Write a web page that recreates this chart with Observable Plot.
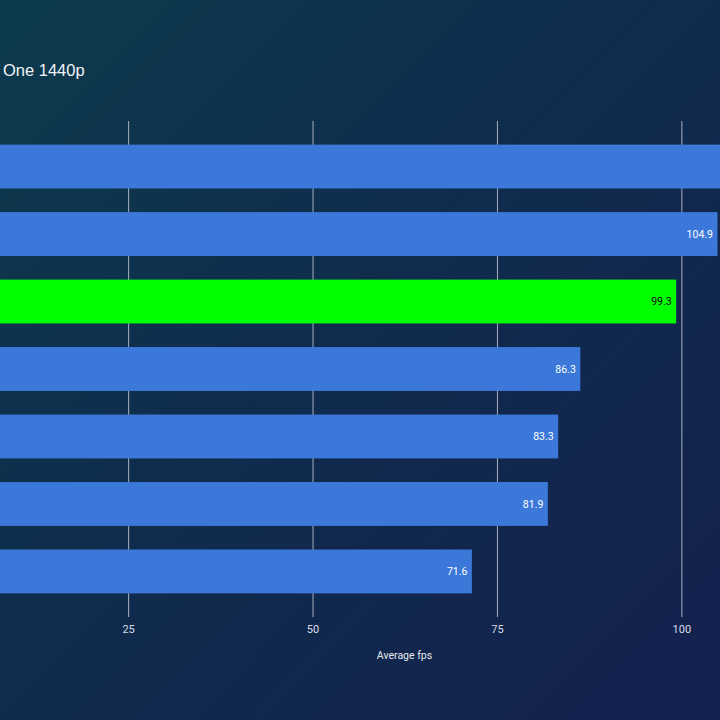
<!DOCTYPE html>
<html>
<head>
<meta charset="utf-8">
<script src="https://cdn.jsdelivr.net/npm/d3@7"></script>
<script src="https://cdn.jsdelivr.net/npm/@observablehq/plot@0.6"></script>
<style>
  html, body { margin: 0; padding: 0; overflow: hidden; }
  #wrap {
    position: relative; width: 720px; height: 720px; overflow: hidden;
    background: linear-gradient(135deg, #0c3b4d 0%, #0f2c4d 45%, #14204e 100%);
  }
  #title {
    position: absolute; left: 3px; top: 61px;
    font-family: "Liberation Sans", Arial, sans-serif; font-size: 16.5px; color: #f2f4f8;
  }
  #chart svg { overflow: hidden; display: block; }
</style>
</head>
<body>
<div id="wrap">
  <div id="title">One 1440p</div>
  <div id="chart"></div>
</div>
<script>
const categories = ["GPU 1", "GPU 2", "GPU 3", "GPU 4", "GPU 5", "GPU 6", "GPU 7"];
const fps = [112.0, 104.9, 99.3, 86.3, 83.3, 81.9, 71.6];
const highlight = [false, false, true, false, false, false, false];
const xTicks = [25, 50, 75, 100];
const axisLabel = "Average fps";

const xDomain = [7.63, 105.24];
const data = categories.map((c, i) => ({ name: c, fps: fps[i], hl: highlight[i] }));

const chart = Plot.plot({
  width: 720,
  height: 720,
  marginLeft: 0,
  marginRight: 0,
  marginTop: 121,
  marginBottom: 103,
  style: { background: "transparent", fontFamily: "Roboto, sans-serif" },
  x: { domain: xDomain },
  y: { domain: categories, padding: 0.35, round: false, axis: null },
  marks: [
    Plot.gridX(xTicks, { stroke: "#b8bfcc", strokeOpacity: 0.9, strokeWidth: 1 }),
    Plot.barX(data, {
      y: "name", x1: 0, x2: "fps",
      fill: d => d.hl ? "#00ff00" : "#3b78d9"
    }),
    Plot.text(data.filter(d => d.fps < xDomain[1]), {
      y: "name", x: "fps", text: d => d.fps.toFixed(1),
      textAnchor: "end", dx: -5,
      fill: d => d.hl ? "#0a0a0a" : "#ffffff",
      fontSize: 10.5
    }),
    Plot.axisX(xTicks, {
      tickSize: 0, tickPadding: 8, fontSize: 11, color: "#d8dde6", label: null
    }),
    Plot.text([axisLabel], {
      frameAnchor: "bottom", dy: 41, dx: 44, text: d => d,
      fill: "#e6e9ef", fontSize: 10.5
    })
  ]
});
document.getElementById("chart").appendChild(chart);
</script>
</body>
</html>
